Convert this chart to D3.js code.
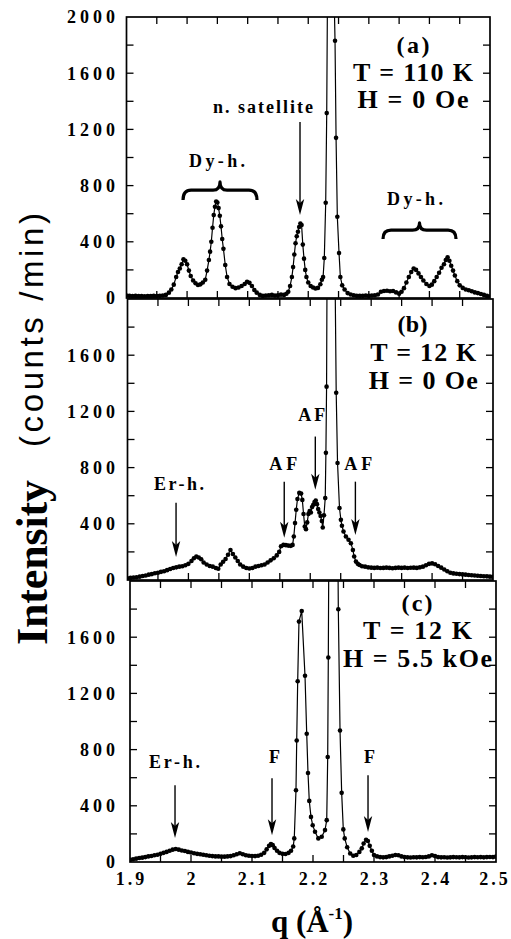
<!DOCTYPE html>
<html><head><meta charset="utf-8">
<script src="https://cdn.jsdelivr.net/npm/d3@7"></script>
<style>
html,body{margin:0;padding:0;background:#fff;}
svg{display:block;}
</style></head>
<body>
<svg id="chart" width="511" height="939"></svg>
<script>
// ---------- DATA ----------
const xTicks = [1.9, 2.0, 2.1, 2.2, 2.3, 2.4, 2.5];
const xTickLabels = ["1.9", "2", "2.1", "2.2", "2.3", "2.4", "2.5"];
const yTicksA = [0, 400, 800, 1200, 1600, 2000];
const yTicksBC = [0, 400, 800, 1200, 1600];

// Panel (a) T = 110 K, H = 0 Oe
const qA = [1.900,1.905,1.910,1.915,1.920,1.925,1.930,1.935,1.940,1.945,1.950,1.955,1.960,1.965,1.970,1.974,1.978,1.982,1.985,1.988,1.991,1.994,1.997,2.000,2.003,2.006,2.010,2.014,2.018,2.022,2.026,2.030,2.033,2.036,2.038,2.040,2.042,2.044,2.046,2.048,2.050,2.052,2.054,2.056,2.058,2.060,2.063,2.066,2.070,2.075,2.080,2.085,2.090,2.095,2.099,2.103,2.107,2.111,2.115,2.120,2.125,2.130,2.135,2.140,2.145,2.150,2.155,2.160,2.164,2.167,2.170,2.173,2.175,2.177,2.179,2.181,2.183,2.185,2.187,2.189,2.191,2.193,2.195,2.197,2.200,2.204,2.208,2.212,2.216,2.220,2.2225,2.2245,2.2265,2.2288,2.2305,2.2325,2.2350,2.2375,2.2400,2.2420,2.2442,2.2459,2.2480,2.2508,2.2530,2.2560,2.260,2.265,2.270,2.275,2.280,2.285,2.290,2.295,2.300,2.305,2.310,2.315,2.320,2.325,2.330,2.335,2.340,2.345,2.350,2.354,2.358,2.362,2.366,2.370,2.374,2.378,2.382,2.386,2.390,2.395,2.400,2.404,2.408,2.412,2.416,2.420,2.424,2.427,2.430,2.433,2.436,2.439,2.442,2.446,2.450,2.455,2.460,2.465,2.470,2.475,2.480,2.485,2.490,2.495,2.500];
const intA = [18,16,14,15,13,14,12,14,13,15,14,16,18,22,38,60,95,150,185,210,240,275,265,240,195,157,125,105,92,97,110,130,195,270,330,400,500,590,650,686,680,640,585,510,420,350,235,150,100,80,70,75,85,100,116,108,85,57,38,22,15,18,20,22,18,20,24,22,30,45,85,150,220,310,390,440,472,505,530,520,380,280,200,150,110,85,75,68,72,98,130,150,285,678,1316,2700,4200,4500,3500,2300,1831,1140,578,320,150,90,60,35,25,20,16,15,16,18,15,18,20,25,45,50,52,48,50,40,30,45,70,110,150,185,210,200,175,150,125,100,85,95,120,150,180,215,240,270,290,265,230,195,160,120,90,72,60,55,48,40,35,28,22,15,10];

// Panel (b) T = 12 K, H = 0 Oe
const qB = [1.900,1.905,1.910,1.915,1.920,1.925,1.930,1.935,1.940,1.945,1.950,1.955,1.960,1.965,1.970,1.975,1.980,1.985,1.990,1.995,2.000,2.005,2.009,2.013,2.017,2.021,2.025,2.030,2.035,2.040,2.045,2.049,2.053,2.057,2.061,2.065,2.069,2.073,2.077,2.081,2.085,2.090,2.095,2.100,2.105,2.110,2.115,2.120,2.125,2.130,2.135,2.140,2.145,2.149,2.152,2.156,2.160,2.164,2.168,2.171,2.173,2.175,2.177,2.179,2.182,2.185,2.187,2.189,2.191,2.193,2.195,2.197,2.199,2.201,2.203,2.205,2.207,2.209,2.211,2.213,2.215,2.217,2.219,2.2205,2.2225,2.2246,2.2257,2.2268,2.2285,2.2320,2.2360,2.2400,2.2426,2.2448,2.2480,2.2503,2.2520,2.2546,2.2585,2.2628,2.2667,2.2700,2.2721,2.2750,2.2780,2.2809,2.2850,2.290,2.295,2.300,2.305,2.310,2.315,2.320,2.325,2.330,2.335,2.340,2.345,2.350,2.355,2.360,2.365,2.370,2.375,2.380,2.385,2.390,2.395,2.400,2.405,2.410,2.415,2.420,2.425,2.430,2.435,2.440,2.445,2.450,2.455,2.460,2.465,2.470,2.475,2.480,2.485,2.490,2.495,2.500];
const intB = [12,15,18,20,24,28,32,38,42,48,52,58,62,70,78,85,90,95,98,105,115,135,155,167,160,148,125,110,100,95,85,80,110,130,150,180,214,185,160,135,110,95,85,82,85,95,100,105,110,125,140,155,175,200,240,250,248,245,243,250,310,405,500,576,620,615,570,470,380,362,410,470,490,480,520,535,555,565,540,505,480,455,420,374,460,583,905,1376,3200,5500,5500,2500,1333,833,512,428,386,345,310,286,262,214,167,131,115,107,98,95,90,88,86,88,85,86,88,86,84,86,88,86,88,85,87,88,86,90,95,105,115,118,112,100,88,75,62,52,47,44,42,40,38,36,34,32,30,29,27,26,24,22];

// Panel (c) T = 12 K, H = 5.5 kOe
const qC = [1.900,1.905,1.910,1.915,1.920,1.925,1.930,1.935,1.940,1.945,1.950,1.955,1.960,1.965,1.970,1.975,1.980,1.985,1.990,1.995,2.000,2.005,2.010,2.015,2.020,2.025,2.030,2.035,2.040,2.045,2.050,2.055,2.060,2.065,2.070,2.075,2.080,2.085,2.090,2.095,2.100,2.105,2.110,2.115,2.120,2.124,2.128,2.131,2.134,2.137,2.141,2.145,2.150,2.155,2.160,2.164,2.1675,2.1693,2.1721,2.1733,2.1749,2.1770,2.1815,2.1869,2.1897,2.1918,2.1939,2.1967,2.1995,2.2033,2.2087,2.2143,2.2197,2.2225,2.2241,2.2251,2.2270,2.2310,2.2350,2.2395,2.2415,2.2443,2.2470,2.2497,2.2520,2.2560,2.2610,2.2660,2.2710,2.2760,2.2800,2.2830,2.2870,2.2900,2.2930,2.2965,2.3000,2.305,2.310,2.315,2.320,2.325,2.330,2.335,2.340,2.345,2.350,2.355,2.360,2.365,2.370,2.375,2.380,2.385,2.390,2.395,2.400,2.405,2.410,2.415,2.420,2.425,2.430,2.435,2.440,2.445,2.450,2.455,2.460,2.465,2.470,2.475,2.480,2.485,2.490,2.495,2.500];
const intC = [15,20,24,28,31,35,40,43,48,52,58,65,72,80,88,92,88,82,78,72,68,62,58,55,52,48,45,42,40,40,38,38,40,42,48,55,62,55,48,45,43,42,45,52,65,90,115,128,120,100,80,65,58,57,65,80,110,168,511,865,1286,1711,1787,1326,913,633,435,321,262,215,168,180,227,298,747,1456,3200,5000,5000,3000,1799,936,492,232,168,105,60,45,50,72,97,132,158,150,115,80,50,40,35,33,35,40,45,50,48,40,35,33,32,34,33,35,34,36,40,48,42,35,33,34,32,33,35,34,33,35,34,32,33,35,34,35,33,35,36,35,38];

// Panel title texts
const panelTitles = [["(a)", "T = 110 K", "H = 0 Oe"], ["(b)", "T = 12 K", "H = 0 Oe"], ["(c)", "T = 12 K", "H = 5.5 kOe"]];

// ---------- LAYOUT ----------
const svg = d3.select("#chart");
const SERIF = "'Liberation Serif','Times New Roman',Times,serif";
const SANS = "'Liberation Sans',Helvetica,Arial,sans-serif";

const panels = [
  {key:"a", q:qA, v:intA, x0:126.5, x1:490, yT:17, yB:298, yTicks:yTicksA,
   title:{q:2.373, vals:[1744,1544,1352], widths:[33,120,111]},
   texts:[{t:"n.  satellite", q:2.0428, v:1317, w:100}, {t:"Dy-h.", q:2.0032, v:932, w:56}, {t:"Dy-h.", q:2.330, v:662, w:56}],
   arrows:[{q:2.1864, from:1253, to:591}],
   braces:[{q1:1.9933, q2:2.1154, tip:826, end:697}, {q1:2.3234, q2:2.4439, tip:534, end:420}]},
  {key:"b", q:qB, v:intB, x0:127.5, x1:493, yT:299, yB:580, yTicks:yTicksBC,
   title:{q:2.3677, qT:2.3856, vals:[1764,1557,1357], widths:[30,106,109]},
   texts:[{t:"Er-h.", q:1.9436, v:643, w:50}, {t:"AF", q:2.1326, v:786, w:28}, {t:"AF", q:2.1803, v:1129, w:27}, {t:"AF", q:2.2559, v:786, w:28}],
   arrows:[{q:1.9797, from:550, to:164}, {q:2.1573, from:700, to:300}, {q:2.2083, from:1021, to:643}, {q:2.2741, from:700, to:321}],
   braces:[]},
  {key:"c", q:qC, v:intC, x0:130, x1:496, yT:581, yB:862, yTicks:yTicksBC,
   title:{q:2.3705, qT:2.3713, vals:[1787,1589,1390], widths:[31,109,149]},
   texts:[{t:"Er-h.", q:1.9311, v:667, w:51}, {t:"F", q:2.1279, v:702}, {t:"F", q:2.2836, v:702}],
   arrows:[{q:1.9738, from:546, to:170}, {q:2.1328, from:596, to:191}, {q:2.2902, from:617, to:213}],
   braces:[]}
];

panels.forEach((p, pi) => {
  const x = d3.scaleLinear().domain([1.9, 2.5]).range([p.x0, p.x1]);
  const y = d3.scaleLinear().domain([0, 2000]).range([p.yB, p.yT]);
  const g = svg.append("g");
  const clipId = "clip-" + p.key;
  svg.append("clipPath").attr("id", clipId).append("rect")
    .attr("x", p.x0).attr("y", p.yT).attr("width", p.x1 - p.x0).attr("height", p.yB - p.yT);

  // frame
  g.append("rect").attr("x", p.x0).attr("y", p.yT).attr("width", p.x1 - p.x0).attr("height", p.yB - p.yT)
    .attr("fill", "none").attr("stroke", "#000").attr("stroke-width", 1.7);

  // x ticks (0.05 spacing) inward top & bottom
  const xt = d3.range(0, 13).map(i => 1.9 + i * 0.05);
  const tl = 7;
  g.selectAll(null).data(xt.slice(1, -1)).join("line")
    .attr("x1", d => x(d)).attr("x2", d => x(d)).attr("y1", p.yB).attr("y2", p.yB - tl)
    .attr("stroke", "#000").attr("stroke-width", 1.3);
  g.selectAll(null).data(xt.slice(1, -1)).join("line")
    .attr("x1", d => x(d)).attr("x2", d => x(d)).attr("y1", p.yT).attr("y2", p.yT + tl)
    .attr("stroke", "#000").attr("stroke-width", 1.3);
  // y ticks (200 spacing) inward left & right
  const yt = d3.range(1, 10).map(i => i * 200);
  g.selectAll(null).data(yt).join("line")
    .attr("x1", p.x0).attr("x2", p.x0 + tl).attr("y1", d => y(d)).attr("y2", d => y(d))
    .attr("stroke", "#000").attr("stroke-width", 1.3);
  g.selectAll(null).data(yt).join("line")
    .attr("x1", p.x1).attr("x2", p.x1 - tl).attr("y1", d => y(d)).attr("y2", d => y(d))
    .attr("stroke", "#000").attr("stroke-width", 1.3);

  // y tick labels
  g.selectAll(null).data(p.yTicks).join("text")
    .attr("x", 115 + 4).attr("y", d => y(d)).attr("dy", "0.36em")
    .attr("text-anchor", "end").attr("font-family", SERIF).attr("font-weight", "bold")
    .attr("font-size", 18).attr("letter-spacing", 4).text(d => d);

  // data
  const data = p.q.map((q, i) => ({q, v: p.v[i]}));
  const dg = g.append("g").attr("clip-path", `url(#${clipId})`);
  dg.append("path").datum(data)
    .attr("d", d3.line().x(d => x(d.q)).y(d => y(d.v)))
    .attr("fill", "none").attr("stroke", "#000").attr("stroke-width", 1.2);
  dg.selectAll("circle").data(data).join("circle")
    .attr("cx", d => x(d.q)).attr("cy", d => y(d.v)).attr("r", 2.3).attr("fill", "#000");

  // titles
  const tt = panelTitles[pi];
  tt.forEach((t, k) => {
    const qq = (k === 0 || !p.title.qT) ? p.title.q : p.title.qT;
    g.append("text").attr("x", x(qq)).attr("y", y(p.title.vals[k]))
      .attr("text-anchor", "middle").attr("font-family", SERIF).attr("font-weight", "bold")
      .attr("font-size", k === 0 ? 24 : 26)
      .attr("textLength", p.title.widths[k]).attr("lengthAdjust", "spacing")
      .text(t);
  });

  // annotation texts
  p.texts.forEach(a => {
    const t = g.append("text").attr("x", x(a.q)).attr("y", y(a.v))
      .attr("font-family", SERIF).attr("font-weight", "bold").attr("font-size", 18)
      .text(a.t);
    if (a.w) t.attr("textLength", a.w).attr("lengthAdjust", "spacing");
  });

  // arrows
  p.arrows.forEach(a => {
    const ax = x(a.q), y0 = y(a.from), y1 = y(a.to);
    g.append("line").attr("x1", ax).attr("x2", ax).attr("y1", y0).attr("y2", y1 - 8)
      .attr("stroke", "#000").attr("stroke-width", 1.4);
    g.append("path")
      .attr("d", `M${ax},${y1} L${ax - 4.2},${y1 - 16} L${ax},${y1 - 12} L${ax + 4.2},${y1 - 16} Z`)
      .attr("fill", "#000");
  });

  // braces
  p.braces.forEach(b => {
    const bx1 = x(b.q1), bx2 = x(b.q2), xc = (bx1 + bx2) / 2;
    const yTip = y(b.tip), yEnd = y(b.end), yMid = yTip + (yEnd - yTip) * 0.45;
    const d = `M${bx1},${yEnd} Q${bx1},${yMid} ${bx1 + 8},${yMid} L${xc - 7},${yMid} Q${xc},${yMid} ${xc},${yTip} ` +
              `Q${xc},${yMid} ${xc + 7},${yMid} L${bx2 - 8},${yMid} Q${bx2},${yMid} ${bx2},${yEnd}`;
    g.append("path").attr("d", d).attr("fill", "none").attr("stroke", "#000").attr("stroke-width", 3.2)
      .attr("stroke-linejoin", "round");
  });

  // x tick labels on bottom panel
  if (pi === 2) {
    g.selectAll(null).data(xTicks).join("text")
      .attr("x", (d, i) => x(d) + (i === xTicks.length - 1 ? -1 : 1.5)).attr("y", 885)
      .attr("text-anchor", "middle").attr("font-family", SERIF).attr("font-weight", "bold")
      .attr("font-size", 18).attr("letter-spacing", 3)
      .text((d, i) => xTickLabels[i]);
  }
});

// axis titles
const xl = svg.append("text").attr("x", 312).attr("y", 932).attr("text-anchor", "middle")
  .attr("font-family", SERIF).attr("font-weight", "bold").attr("font-size", 31);
xl.append("tspan").text("q  (Å");
xl.append("tspan").attr("font-size", 17).attr("dy", -13).text("-1");
xl.append("tspan").attr("dy", 13).text(")");

svg.append("text").attr("transform", "translate(47,645) rotate(-90)")
  .attr("font-family", SERIF).attr("font-weight", "bold").attr("font-size", 44)
  .attr("textLength", 165).attr("lengthAdjust", "spacing").text("Intensity");
svg.append("text").attr("transform", "translate(43,447) rotate(-90)")
  .attr("font-family", SANS).attr("font-weight", "normal").attr("font-size", 33)
  .attr("textLength", 234).attr("lengthAdjust", "spacing").text("(counts /min)");
</script>
</body></html>
